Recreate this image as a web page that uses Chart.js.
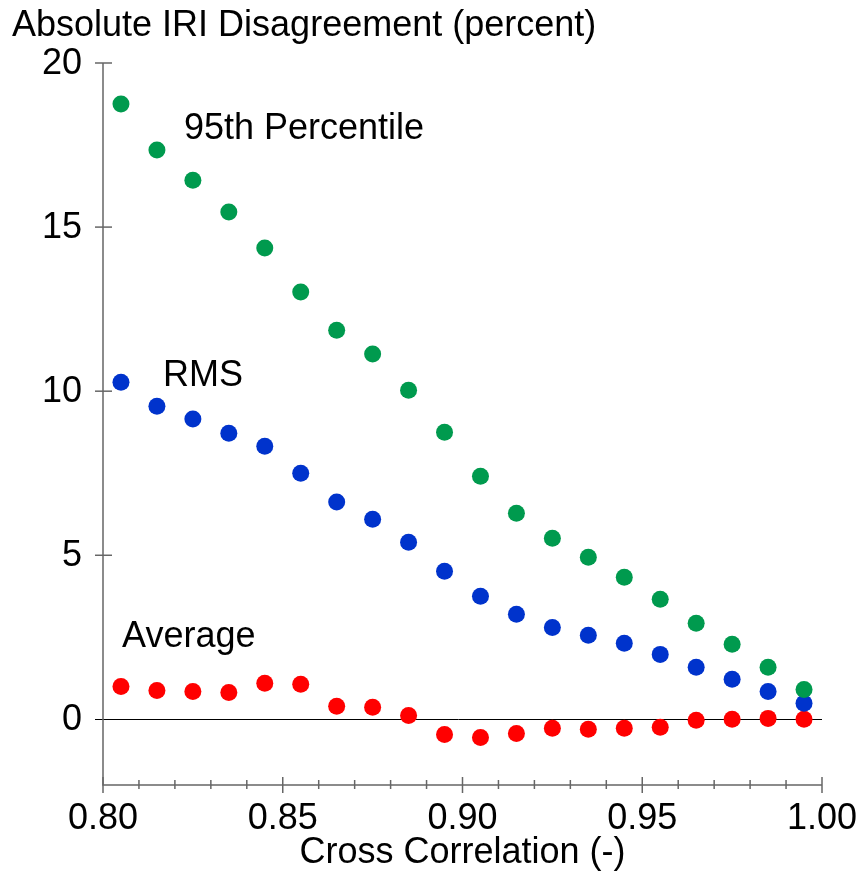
<!DOCTYPE html>
<html>
<head>
<meta charset="utf-8">
<script src="https://cdn.jsdelivr.net/npm/chart.js@4/dist/chart.umd.min.js"></script>
<style>
  html, body { margin: 0; padding: 0; background: #fff; }
  #wrap { width: 864px; height: 871px; }
</style>
</head>
<body>
<div id="wrap"><canvas id="chart" width="864" height="871"></canvas></div>
<script>
// Data
const crossCorr = [0.805, 0.815, 0.825, 0.835, 0.845, 0.855, 0.865, 0.875, 0.885, 0.895,
                   0.905, 0.915, 0.925, 0.935, 0.945, 0.955, 0.965, 0.975, 0.985, 0.995];
const p95 = [18.75, 17.35, 16.43, 15.46, 14.36, 13.02, 11.86, 11.13, 10.03, 8.75,
             7.41, 6.28, 5.52, 4.94, 4.33, 3.66, 2.93, 2.29, 1.59, 0.91];
const rms = [10.27, 9.54, 9.15, 8.72, 8.32, 7.5, 6.62, 6.1, 5.4, 4.51,
             3.75, 3.2, 2.8, 2.56, 2.32, 1.98, 1.59, 1.22, 0.85, 0.49];
const average = [1.0, 0.88, 0.85, 0.82, 1.1, 1.07, 0.4, 0.37, 0.12, -0.46,
                 -0.55, -0.43, -0.27, -0.3, -0.27, -0.24, -0.03, 0.0, 0.03, 0.0];

const xTicks = [0.80, 0.85, 0.90, 0.95, 1.00];
const xMinorTicks = [0.81, 0.82, 0.83, 0.84, 0.86, 0.87, 0.88, 0.89, 0.91, 0.92, 0.93, 0.94, 0.96, 0.97, 0.98, 0.99];
const yTicks = [0, 5, 10, 15, 20];

const seriesLabels = [
  { text: "95th Percentile", x: 0.8225, y: 18.0 },
  { text: "RMS", x: 0.8167, y: 10.46 },
  { text: "Average", x: 0.8053, y: 2.5 }
];

const FONT = "Liberation Sans, Arial, sans-serif";

function toPoints(ys) {
  return crossCorr.map((x, i) => ({ x: x, y: ys[i] }));
}

// Draws the axes, ticks, zero line and text
const axesPlugin = {
  id: "axesPlugin",
  beforeDatasetsDraw(chart) {
    const ctx = chart.ctx;
    const xs = chart.scales.x;
    const ys = chart.scales.y;
    const area = chart.chartArea;
    ctx.save();

    // zero line
    ctx.strokeStyle = "#000";
    ctx.lineWidth = 1;
    ctx.beginPath();
    ctx.moveTo(area.left - 8, Math.round(ys.getPixelForValue(0)) + 0.5);
    ctx.lineTo(area.right, Math.round(ys.getPixelForValue(0)) + 0.5);
    ctx.stroke();

    // axes lines
    ctx.strokeStyle = "#666";
    ctx.lineWidth = 1.5;
    ctx.beginPath();
    ctx.moveTo(area.left, area.top);
    ctx.lineTo(area.left, area.bottom);
    ctx.lineTo(area.right, area.bottom);
    ctx.stroke();

    // y ticks
    ctx.fillStyle = "#000";
    ctx.font = "36px " + FONT;
    ctx.textAlign = "right";
    ctx.textBaseline = "middle";
    yTicks.forEach(v => {
      const py = ys.getPixelForValue(v);
      if (v !== 0) {
        ctx.beginPath();
        ctx.moveTo(area.left - 8, py);
        ctx.lineTo(area.left + 9, py);
        ctx.stroke();
      }
      ctx.fillText(String(v), area.left - 21, py + 1);
    });

    // x ticks
    ctx.textAlign = "center";
    xTicks.forEach(v => {
      const px = xs.getPixelForValue(v);
      ctx.beginPath();
      ctx.moveTo(px, area.bottom - 8);
      ctx.lineTo(px, area.bottom + 8);
      ctx.stroke();
      ctx.fillText(v.toFixed(2), px, area.bottom + 34);
    });
    xMinorTicks.forEach(v => {
      const px = xs.getPixelForValue(v);
      ctx.beginPath();
      ctx.moveTo(px, area.bottom - 5);
      ctx.lineTo(px, area.bottom + 4);
      ctx.stroke();
    });

    // axis titles
    ctx.textAlign = "center";
    ctx.fillText("Cross Correlation (-)", (area.left + area.right) / 2, 853);
    ctx.textAlign = "left";
    ctx.fillText("Absolute IRI Disagreement (percent)", 12, 26);

    // series labels
    seriesLabels.forEach(l => {
      ctx.fillText(l.text, xs.getPixelForValue(l.x), ys.getPixelForValue(l.y));
    });

    ctx.restore();
  }
};

const pointStyle = (color) => ({
  backgroundColor: color,
  borderColor: color,
  pointRadius: 8.5,
  pointHoverRadius: 8.5,
  borderWidth: 0,
  showLine: false
});

new Chart(document.getElementById("chart"), {
  type: "scatter",
  data: {
    datasets: [
      Object.assign({ label: "95th Percentile", data: toPoints(p95) }, pointStyle("#009a4e")),
      Object.assign({ label: "RMS", data: toPoints(rms) }, pointStyle("#0033cc")),
      Object.assign({ label: "Average", data: toPoints(average) }, pointStyle("#ff0000"))
    ]
  },
  options: {
    responsive: false,
    animation: false,
    events: [],
    layout: { padding: { left: 103, right: 42, top: 63, bottom: 86 } },
    scales: {
      x: { type: "linear", min: 0.8, max: 1.0, display: false },
      y: { type: "linear", min: -2, max: 20, display: false }
    },
    plugins: {
      legend: { display: false },
      tooltip: { enabled: false }
    }
  },
  plugins: [axesPlugin]
});
</script>
</body>
</html>
